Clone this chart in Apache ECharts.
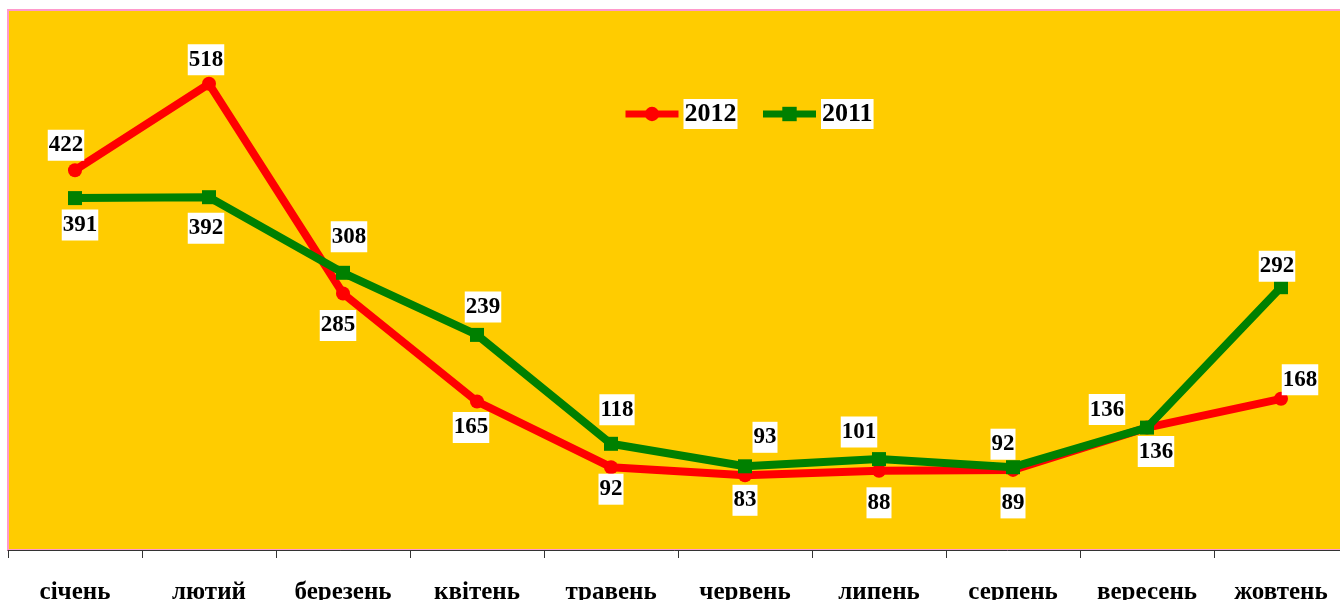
<!DOCTYPE html>
<html>
<head>
<meta charset="utf-8">
<script src="https://cdn.jsdelivr.net/npm/echarts@6/dist/echarts.min.js"></script>
<style>
  html, body { margin: 0; padding: 0; background: #ffffff; }
  #chart { width: 1340px; height: 600px; }
</style>
</head>
<body>
<div id="chart"></div>
<script>
// --- DỮ LIỆU ---
const months = ["січень", "лютий", "березень", "квітень", "травень", "червень", "липень", "серпень", "вересень", "жовтень"];
const values2012 = [422, 518, 285, 165, 92, 83, 88, 89, 136, 168];
const values2011 = [391, 392, 308, 239, 118, 93, 101, 92, 136, 292];

// label offsets (px) relative to each point
const offsets2012 = [[-9, -25], [-3, -24], [-5, 32], [-6, 26], [0, 22], [0, 25], [0, 32], [0, 33], [9, 24], [19, -19]];
const offsets2011 = [[5, 27], [-3, 31], [6, -36], [6, -28], [6, -34], [20, -29], [-20, -27], [-10, -23], [-40, -18], [-4, -21]];

const labelStyle = {
  show: true,
  position: "inside",
  color: "#000",
  fontFamily: "Liberation Serif",
  fontWeight: "bold",
  fontSize: 23,
  backgroundColor: "#ffffff",
  padding: [5, 1, 3, 1],
};

function buildData(values, offsets) {
  return values.map(function (v, i) {
    return { value: v, label: Object.assign({}, labelStyle, { offset: offsets[i] }) };
  });
}

const chart = echarts.init(document.getElementById("chart"));
chart.setOption({
  animation: false,
  backgroundColor: "#ffffff",
  grid: {
    left: 8,
    top: 10,
    width: 1340,
    height: 540,
    containLabel: false,
    outerBoundsMode: "none",
    show: true,
    backgroundColor: "#FFCC00",
    borderColor: "#FF99CC",
    borderWidth: 2,
  },
  legend: {
    left: 622,
    top: 99,
    padding: 0,
    itemWidth: 53,
    itemHeight: 18,
    itemGap: 22,
    lineStyle: { width: 7 },
    textStyle: {
      color: "#000",
      fontFamily: "Liberation Serif",
      fontWeight: "bold",
      fontSize: 26,
      backgroundColor: "#ffffff",
      padding: [3, 1, 1, 1],
    },
    data: ["2012", "2011"],
  },
  xAxis: {
    type: "category",
    data: months,
    boundaryGap: true,
    axisLine: { lineStyle: { color: "#333", width: 1 } },
    axisTick: { show: true, length: 8, lineStyle: { color: "#333" } },
    axisLabel: {
      color: "#000",
      fontFamily: "Liberation Serif",
      fontWeight: "bold",
      fontSize: 25,
      margin: 30,
      interval: 0,
    },
  },
  yAxis: {
    type: "value",
    min: 0,
    max: 600,
    show: false,
    splitLine: { show: false },
  },
  series: [
    {
      name: "2012",
      type: "line",
      data: buildData(values2012, offsets2012),
      symbol: "circle",
      symbolSize: 14,
      lineStyle: { color: "#FF0000", width: 8 },
      itemStyle: { color: "#FF0000" },
      z: 2,
    },
    {
      name: "2011",
      type: "line",
      data: buildData(values2011, offsets2011),
      symbol: "rect",
      symbolSize: 14,
      lineStyle: { color: "#008000", width: 8 },
      itemStyle: { color: "#008000" },
      z: 3,
    },
  ],
});
</script>
</body>
</html>
